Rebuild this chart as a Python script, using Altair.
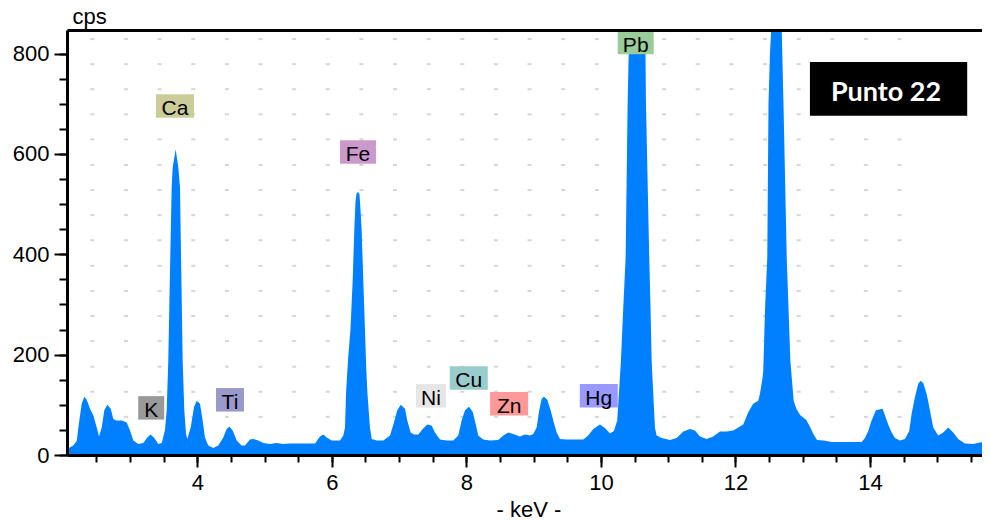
import altair as alt
import pandas as pd

# ---------------- spectrum (keV, cps) ----------------
kev = [2.063, 2.157, 2.207, 2.246, 2.282, 2.320, 2.356, 2.405, 2.454, 2.505,
       2.539, 2.579, 2.618, 2.662, 2.713, 2.751, 2.791, 2.876, 2.951, 3.000,
       3.049, 3.123, 3.197, 3.257, 3.307, 3.361, 3.420, 3.471, 3.520, 3.545,
       3.569, 3.599, 3.619, 3.634, 3.679, 3.718, 3.743, 3.758, 3.783, 3.807,
       3.832, 3.851, 3.902, 3.951, 3.991, 4.040, 4.080, 4.114, 4.164, 4.238,
       4.312, 4.386, 4.437, 4.476, 4.526, 4.586, 4.660, 4.709, 4.783, 4.832,
       4.907, 4.981, 5.081, 5.180, 5.278, 5.378, 5.527, 5.750, 5.824, 5.874,
       5.924, 5.998, 6.121, 6.171, 6.196, 6.211, 6.240, 6.277, 6.310, 6.334,
       6.352, 6.367, 6.389, 6.411, 6.426, 6.444, 6.468, 6.493, 6.512, 6.530,
       6.567, 6.593, 6.668, 6.766, 6.865, 6.924, 6.973, 7.024, 7.088, 7.122,
       7.172, 7.221, 7.285, 7.351, 7.419, 7.484, 7.533, 7.608, 7.707, 7.806,
       7.880, 7.930, 7.980, 8.039, 8.094, 8.139, 8.177, 8.251, 8.351, 8.474,
       8.549, 8.623, 8.697, 8.797, 8.871, 8.946, 8.995, 9.045, 9.084, 9.120,
       9.154, 9.203, 9.253, 9.292, 9.343, 9.392, 9.491, 9.640, 9.738, 9.812,
       9.887, 9.986, 10.061, 10.135, 10.194, 10.243, 10.268, 10.298, 10.335, 10.368,
       10.398, 10.422, 10.536, 10.660, 10.670, 10.719, 10.737, 10.755, 10.779, 10.804,
       10.829, 10.904, 11.027, 11.127, 11.225, 11.325, 11.399, 11.474, 11.572, 11.671,
       11.770, 11.869, 11.968, 12.043, 12.117, 12.191, 12.265, 12.340, 12.365, 12.405,
       12.414, 12.440, 12.474, 12.492, 12.514, 12.532, 12.611, 12.689, 12.715, 12.763,
       12.817, 12.866, 12.906, 12.965, 13.055, 13.114, 13.163, 13.214, 13.313, 13.431,
       13.603, 13.877, 13.926, 13.975, 14.025, 14.089, 14.189, 14.223, 14.272, 14.323,
       14.372, 14.446, 14.521, 14.584, 14.620, 14.669, 14.718, 14.754, 14.793, 14.843,
       14.892, 14.941, 15.015, 15.090, 15.164, 15.238, 15.312, 15.412, 15.535, 15.635,
       15.709, 15.773, 15.785]
cps = [12, 19, 28, 69, 102, 116, 110, 92, 79, 55,
       37, 55, 89, 100, 92, 72, 69, 69, 65, 49,
       29, 22, 24, 35, 41, 34, 22, 24, 50, 89,
       188, 400, 533, 573, 609, 573, 533, 400, 188, 89,
       43, 32, 55, 95, 108, 102, 69, 35, 19, 14,
       19, 35, 52, 57, 49, 29, 19, 19, 31, 32,
       29, 24, 22, 24, 22, 23, 23, 23, 37, 41,
       35, 29, 29, 39, 55, 122, 188, 250, 348, 447,
       505, 521, 524, 520, 490, 447, 348, 250, 172, 122,
       55, 32, 29, 29, 39, 65, 89, 100, 92, 69,
       45, 41, 41, 52, 61, 59, 45, 31, 29, 29,
       39, 69, 89, 96, 86, 62, 39, 31, 29, 30,
       39, 45, 42, 37, 41, 39, 42, 55, 89, 112,
       116, 110, 89, 69, 45, 32, 31, 31, 31, 39,
       52, 61, 54, 43, 48, 69, 122, 188, 300, 394,
       704, 846, 1150, 846, 704, 394, 300, 188, 122, 55,
       39, 34, 30, 34, 47, 52, 49, 37, 32, 37,
       47, 47, 49, 55, 61, 85, 102, 108, 122, 155,
       168, 288, 394, 700, 800, 846, 1300, 846, 700, 394,
       188, 108, 92, 79, 70, 55, 41, 30, 29, 26,
       26, 26, 34, 48, 69, 89, 92, 79, 61, 45,
       34, 29, 32, 48, 82, 115, 142, 148, 143, 122,
       89, 55, 39, 45, 55, 45, 32, 23, 22, 25,
       26, 33, 34]

# ---------------- element labels ----------------
label_elem = ["Ca", "K", "Ti", "Fe", "Ni", "Cu", "Zn", "Hg", "Pb"]
label_kev = [3.669, 3.315, 4.486, 6.389, 7.474, 8.036, 8.636, 9.969, 10.518]
label_cps = [695.5, 93.9, 110, 603.8, 118, 153.4, 102.2, 118, 822]
label_color = ["#cccc99", "#999999", "#9999cc", "#cc99cc", "#e6e6e6",
               "#99cccc", "#ff9999", "#9999ff", "#99cc99"]
label_box_px = [38, 26, 28, 36, 30, 38, 38, 38, 36]

# title box
box_text = ["Punto 22"]
box_kev = [13.108, 15.446]
box_cps = [676.2, 783.2]
box_text_pos = [14.239, 722]

# axis ticks
x_major = [4, 6, 8, 10, 12, 14]
x_minor = [2.5 + 0.5 * i for i in range(27)]
y_major = [0, 200, 400, 600, 800]
y_minor = [50 * i for i in range(17)]

# dotted background lattice
grid_kev = [2.44 + 0.5 * i for i in range(25)]
grid_cps = [76, 126, 176, 227, 277, 327, 377, 428, 478, 528, 578, 629, 679, 729, 779, 829]

# ---------------- layout ----------------
PXK = 67.264            # pixels per keV
W, H = 915, 425
XDOM = [2.063, 2.063 + W / PXK]
YDOM = [0, 847]
PXC = H / (YDOM[1] - YDOM[0])
FONT = "Liberation Sans"

xscale = alt.Scale(domain=XDOM, nice=False, zero=False)
yscale = alt.Scale(domain=YDOM, nice=False, zero=False)

spec_df = pd.DataFrame({"kev": kev, "cps": cps})
grid_df = pd.DataFrame([(gx, gy) for gy in grid_cps for gx in grid_kev], columns=["gk", "gc"])
lab_df = pd.DataFrame({"elem": label_elem, "kev": label_kev, "cps": label_cps,
                       "color": label_color, "w": label_box_px})
box_df = pd.DataFrame({"t": box_text, "k1": [box_kev[0]], "k2": [box_kev[1]],
                       "c1": [box_cps[0]], "c2": [box_cps[1]],
                       "tk": [box_text_pos[0]], "tc": [box_text_pos[1]]})

# grid layer: carries the top border and the minor y ticks
grid = alt.Chart(grid_df).mark_tick(orient="horizontal", size=4, thickness=2, color="#c4c4c4").encode(
    x=alt.X("gk:Q", scale=xscale,
            axis=alt.Axis(orient="top", labels=False, ticks=False, domain=True, grid=False,
                          domainColor="black", domainWidth=3, title=None, zindex=2)),
    y=alt.Y("gc:Q", scale=yscale,
            axis=alt.Axis(orient="left", values=y_minor, labels=False, ticks=True, tickSize=8,
                          domain=False, grid=False, title=None, zindex=2)),
)

# spectrum layer: carries the main axes
area = alt.Chart(spec_df).mark_area(color="#0080ff", clip=True, interpolate="linear").encode(
    x=alt.X("kev:Q", scale=xscale,
            axis=alt.Axis(orient="bottom", values=x_major, format="d", grid=False,
                          tickSize=12, labelPadding=5, labelFlush=False, labelOverlap=False,
                          title="- keV -", titleX=461.5, titleY=61, titleBaseline="alphabetic",
                          titleAlign="center", zindex=2)),
    y=alt.Y("cps:Q", scale=yscale,
            axis=alt.Axis(orient="left", values=y_major, format="d", grid=False,
                          tickSize=13, labelPadding=5, labelOverlap=False, labelFlush=False,
                          title="cps", titleAngle=0, titleAlign="left", titleBaseline="alphabetic",
                          titleX=5, titleY=-7, zindex=2)),
)

# label boxes: carry the minor x ticks
rects = alt.Chart(lab_df).transform_calculate(
    x1=f"datum.kev - datum.w / {2 * PXK}",
    x2=f"datum.kev + datum.w / {2 * PXK}",
    y1=f"datum.cps - {11.75 / PXC}",
    y2=f"datum.cps + {11.75 / PXC}",
).mark_rect().encode(
    x=alt.X("x1:Q", scale=xscale,
            axis=alt.Axis(orient="bottom", values=x_minor, labels=False, ticks=True, tickSize=7,
                          domain=False, grid=False, title=None, zindex=2)),
    x2="x2:Q",
    y=alt.Y("y1:Q", scale=yscale, axis=None), y2="y2:Q",
    color=alt.Color("color:N", scale=None),
)

texts = alt.Chart(lab_df).mark_text(font=FONT, fontSize=21, color="black", baseline="middle", dy=3).encode(
    x=alt.X("kev:Q", scale=xscale, axis=None),
    y=alt.Y("cps:Q", scale=yscale, axis=None),
    text="elem:N",
)

pbox = alt.Chart(box_df).mark_rect(color="black").encode(
    x=alt.X("k1:Q", scale=xscale, axis=None), x2="k2:Q",
    y=alt.Y("c1:Q", scale=yscale, axis=None), y2="c2:Q",
)
ptext = alt.Chart(box_df).mark_text(font="Lato", fontWeight="bold", fontSize=27, color="white",
                                    baseline="middle").encode(
    x=alt.X("tk:Q", scale=xscale, axis=None),
    y=alt.Y("tc:Q", scale=yscale, axis=None),
    text="t:N",
)

chart = alt.layer(grid, area, rects, texts, pbox, ptext).resolve_axis(
    x="independent", y="independent"
).properties(
    width=W, height=H,
    padding={"left": 59, "top": 22, "right": 0, "bottom": 66},
    autosize=alt.AutoSizeParams(type="none"),
    background="white",
).configure_view(stroke=None).configure_axis(
    labelFont=FONT, labelFontSize=22, labelColor="black",
    titleFont=FONT, titleFontSize=22, titleFontWeight="normal", titleColor="black",
    domainColor="black", domainWidth=3, tickColor="black", tickWidth=2,
)

chart.save("out.html", embed_options={"renderer": "svg", "actions": False})
